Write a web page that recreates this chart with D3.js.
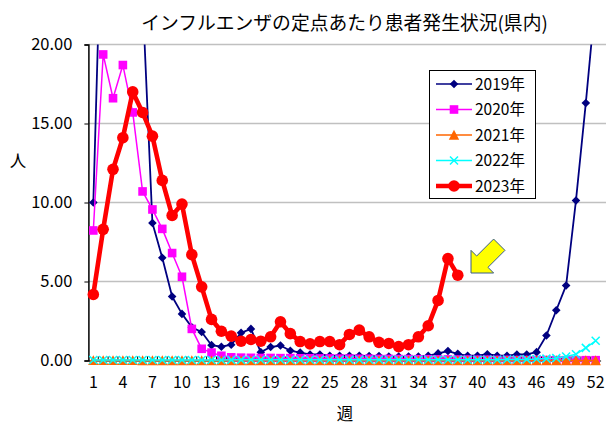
<!DOCTYPE html>
<html><head><meta charset="utf-8">
<script src="https://cdn.jsdelivr.net/npm/d3@7"></script>
<style>
html,body{margin:0;padding:0;background:#fff;}
text{font-family:"Noto Sans CJK JP","Noto Sans",sans-serif;fill:#000;}
</style></head>
<body><svg id="c" width="606" height="426"></svg>
<script>
const title = "インフルエンザの定点あたり患者発生状況(県内)";
const yTitle = "人";
const xTitle = "週";
const weeks = d3.range(1, 53);
const xTickLabels = [1,4,7,10,13,16,19,22,25,28,31,34,37,40,43,46,49,52];
const yTicks = [0, 5, 10, 15, 20];
const seriesNames = ["2019年","2020年","2021年","2022年","2023年"];

const v2019 = [10.0,32,45,50,42,23,8.7,6.5,4.05,2.95,2.1,1.8,0.97,0.87,1.0,1.75,2.0,0.53,0.85,0.95,0.62,0.5,0.38,0.38,0.3,0.3,0.3,0.3,0.28,0.28,0.25,0.25,0.25,0.25,0.3,0.45,0.6,0.42,0.3,0.3,0.4,0.3,0.3,0.38,0.38,0.53,1.58,3.18,4.75,10.13,16.3,23];
const v2020 = [8.23,19.37,16.6,18.7,15.7,10.7,9.56,8.33,6.8,5.3,2.0,0.74,0.5,0.3,0.2,0.18,0.17,0.16,0.16,0.15,0.15,0.14,0.14,0.13,0.13,0.12,0.12,0.11,0.11,0.1,0.1,0.09,0.09,0.08,0.08,0.07,0.07,0.06,0.06,0.05,0.05,0.04,0.04,0.03,0.03,0.03,0.03,0.02,0.02,0.02,0.02,0.02];
const v2021 = [0.01,0.01,0.01,0.01,0.01,0,0,0,0,0,0,0,0,0,0,0,0,0,0,0,0,0,0,0,0,0,0,0,0,0,0,0,0,0,0,0,0,0,0,0,0,0,0,0,0,0,0,0,0,0,0,0];
const v2022 = [0.03,0.03,0.03,0.03,0.03,0.03,0.03,0.03,0.03,0.03,0.03,0.03,0.03,0.03,0.04,0.04,0.05,0.05,0.05,0.05,0.05,0.05,0.05,0.05,0.05,0.05,0.05,0.05,0.05,0.05,0.05,0.05,0.05,0.05,0.05,0.05,0.05,0.05,0.05,0.05,0.05,0.05,0.06,0.06,0.07,0.1,0.12,0.15,0.25,0.4,0.8,1.25];
const v2023 = [4.18,8.3,12.1,14.1,17.0,15.7,14.2,11.4,9.18,9.9,6.7,4.66,2.6,1.85,1.54,1.22,1.33,1.22,1.5,2.45,1.7,1.2,1.05,1.2,1.2,1.0,1.65,1.92,1.5,1.15,1.08,0.88,1.0,1.5,2.2,3.8,6.45,5.4];

const colors = ["#000080","#ff00ff","#ff6600","#00ffff","#ff0000"];
const symbols = ["diamond","square","triangle","cross","circle"];
const allValues = [v2019,v2020,v2021,v2022,v2023];

const svg = d3.select("#c");
const plot = {l:88.4, r:600.6, t:44.5, b:360.5};
const x = d3.scaleBand().domain(weeks).range([plot.l, plot.r]).padding(0);
const cx = w => x(w) + x.bandwidth()/2;
const y = d3.scaleLinear().domain([0,20]).range([plot.b, plot.t]);

// title
svg.append("text").attr("x", 344.5).attr("y", 30).attr("text-anchor","middle")
  .attr("font-size", 18.8).text(title);

// gridlines
svg.append("g").selectAll("line").data(yTicks.filter(d=>d>0)).join("line")
  .attr("x1", plot.l).attr("x2", 606).attr("y1", d=>y(d)).attr("y2", d=>y(d))
  .attr("stroke","#c0c0c0").attr("stroke-width",1.5);

// y axis
const yAxis = d3.axisLeft(y).tickValues(yTicks).tickFormat(d3.format(".2f")).tickSize(4).tickPadding(12);
const gy = svg.append("g").attr("transform",`translate(${plot.l},0)`).call(yAxis);
gy.select(".domain").attr("stroke","#000").attr("stroke-width",1.5);
gy.selectAll(".tick line").attr("stroke","#000");
gy.selectAll("text").attr("font-size",16.5).attr("font-family",'"Noto Sans CJK JP"').attr("fill","#000");

// x axis
const xAxis = d3.axisBottom(x).tickValues(xTickLabels).tickSize(0).tickPadding(16);
const gx = svg.append("g").attr("transform",`translate(0,${plot.b})`).call(xAxis);
gx.select(".domain").attr("stroke","#000").attr("stroke-width",1);
gx.selectAll("text").attr("font-size",16).attr("font-family",'"Noto Sans CJK JP"').attr("fill","#000");
// category boundary ticks
svg.append("g").selectAll("line").data(weeks.slice(1)).join("line")
  .attr("x1", d=>x(d)).attr("x2", d=>x(d)).attr("y1", plot.b-4).attr("y2", plot.b)
  .attr("stroke","#000").attr("stroke-width",1);

// axis titles
svg.append("text").attr("x",18).attr("y",167).attr("text-anchor","middle").attr("font-size",16.5).text(yTitle);
svg.append("text").attr("x",345).attr("y",420).attr("text-anchor","middle").attr("font-size",16.5).text(xTitle);

// clip
svg.append("clipPath").attr("id","clip").append("rect")
  .attr("x", 80).attr("y", plot.t).attr("width", 606-80).attr("height", 400-plot.t);

function marker(g, type, color, px, py) {
  if (type==="diamond") {
    const s=4.3;
    g.append("path").attr("d",`M${px},${py-s}L${px+s},${py}L${px},${py+s}L${px-s},${py}Z`).attr("fill",color);
  } else if (type==="square") {
    const s=4.3;
    g.append("rect").attr("x",px-s).attr("y",py-s).attr("width",2*s).attr("height",2*s).attr("fill",color);
  } else if (type==="triangle") {
    const s=5.2;
    g.append("path").attr("d",`M${px},${py-s}L${px+s},${py+s*0.9}L${px-s},${py+s*0.9}Z`).attr("fill",color);
  } else if (type==="cross") {
    const s=4;
    g.append("path").attr("d",`M${px-s},${py-s}L${px+s},${py+s}M${px-s},${py+s}L${px+s},${py-s}`).attr("stroke",color).attr("stroke-width",1.5);
  } else {
    g.append("circle").attr("cx",px).attr("cy",py).attr("r",5.8).attr("fill",color);
  }
}

const pg = svg.append("g").attr("clip-path","url(#clip)");
allValues.forEach((vals,i)=>{
  const g = pg.append("g");
  const pts = vals.map((v,k)=>[cx(weeks[k]), y(v)]);
  g.append("path").attr("d", d3.line()(pts)).attr("fill","none").attr("stroke",colors[i])
    .attr("stroke-width", i===4 ? 4.6 : (i===0?1.8:1.5)).attr("stroke-linejoin","round");
  pts.forEach(p=>marker(g, symbols[i], colors[i], p[0], p[1]));
});

// legend
const lg = svg.append("g");
lg.append("rect").attr("x",429.5).attr("y",70.5).attr("width",106).attr("height",128)
  .attr("fill","#fff").attr("stroke","#000").attr("stroke-width",1);
seriesNames.forEach((n,i)=>{
  const ly = 84 + i*25.5;
  lg.append("line").attr("x1",436).attr("x2",472).attr("y1",ly).attr("y2",ly)
    .attr("stroke",colors[i]).attr("stroke-width", i===4?4.6:1.5);
  marker(lg, symbols[i], colors[i], 454, ly);
  lg.append("text").attr("x",475).attr("y",ly+5.5).attr("font-size",15.5).text(n);
});

// yellow arrow (pointing down-left toward latest point)
const tip = [471, 273];
const local = [[0,0],[16,-16],[16,-8],[40,-8],[40,8],[16,8],[16,16]];
const ang = -Math.PI/4;
const arrowPts = local.map(([a,b])=>[tip[0]+a*Math.cos(ang)-b*Math.sin(ang), tip[1]+a*Math.sin(ang)+b*Math.cos(ang)]);
svg.append("path").attr("d", d3.line()(arrowPts)+"Z").attr("fill","#ffff00").attr("stroke","#385d8a").attr("stroke-width",1);
</script></body></html>
